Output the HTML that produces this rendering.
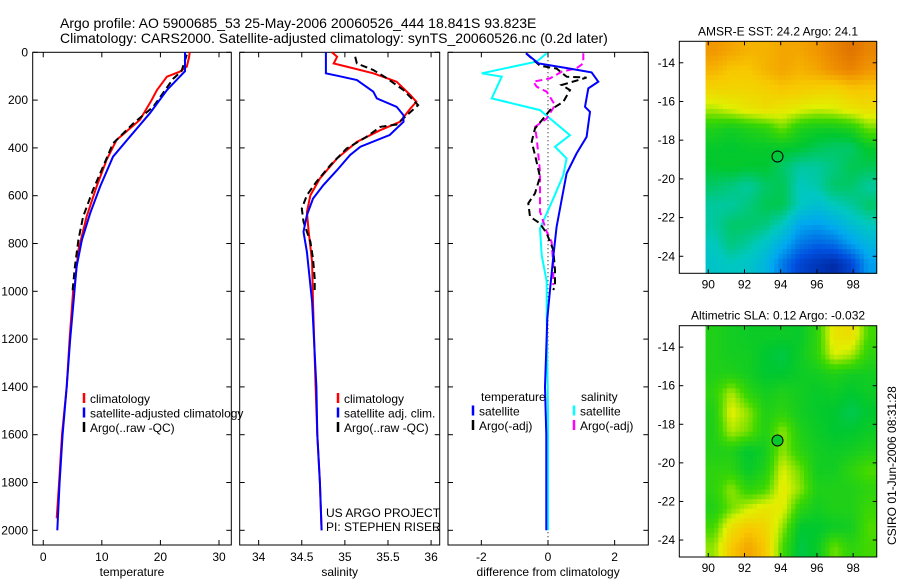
<!DOCTYPE html>
<html><head><meta charset="utf-8"><style>
html,body{margin:0;padding:0;background:#fff;width:900px;height:580px;overflow:hidden}
svg{display:block;font-family:"Liberation Sans",sans-serif}
</style></head><body>
<svg id="fig" width="900" height="580" viewBox="0 0 900 580" xmlns="http://www.w3.org/2000/svg">
<text x="60" y="28" font-size="14">Argo profile: AO 5900685_53 25-May-2006 20060526_444 18.841S 93.823E</text>
<text x="60" y="43" font-size="14">Climatology: CARS2000. Satellite-adjusted climatology: synTS_20060526.nc (0.2d later)</text>
<g id="g"></g>
</svg>
<script>
// ---------- profile data (depth in m) ----------
const tClimDepth = [0,20,60,81,102,158,200,283,367,451,562,688,827,967,1000,1200,1400,1600,1800,1950];
const tClimVal   = [25.0,24.9,24.5,23.3,21.1,19.4,18.5,16.5,12.5,10.8,9.1,7.4,6.0,5.4,5.1,4.5,4.0,3.2,2.7,2.3];
const tSatDepth  = [0,79,158,255,353,437,562,674,785,897,1036,1200,1400,1600,1800,2000];
const tSatVal    = [24.2,24.2,21.1,18.2,14.8,11.9,9.7,8.0,6.6,5.7,5.2,4.6,4.0,3.3,2.8,2.4];
const tArgoDepth = [10,79,110,227,297,381,479,576,688,785,897,1000];
const tArgoVal   = [24.5,23.6,22.2,18.8,15.4,11.9,10.2,8.5,6.8,6.0,5.4,5.0];

const sClimDepth = [0,19,47,60,88,123,179,207,235,291,326,375,444,528,598,668,751,877,1044,1400,1600,1800,2000];
const sClimVal   = [34.85,34.91,34.87,35.02,35.33,35.60,35.76,35.83,35.76,35.64,35.41,35.14,34.91,34.71,34.60,34.56,34.58,34.62,34.63,34.66,34.68,34.71,34.73];
const sSatDepth  = [0,88,98,116,165,193,228,263,291,346,395,430,493,556,612,681,751,835,1044,1400,1600,1800,2000];
const sSatVal    = [34.78,34.78,34.91,35.14,35.33,35.37,35.60,35.68,35.68,35.52,35.18,35.06,34.91,34.75,34.63,34.56,34.52,34.56,34.62,34.67,34.68,34.71,34.73];
const sArgoDepth = [19,47,74,109,158,221,263,302,312,354,403,473,542,598,654,709,793,863,946,1002];
const sArgoVal   = [35.12,35.14,35.33,35.49,35.68,35.85,35.72,35.60,35.41,35.25,35.02,34.83,34.67,34.56,34.50,34.52,34.60,34.63,34.65,34.65];

const dTSatDepth  = [4,46,68,84,123,151,228,249,354,423,507,618,730,855,995,1114,1400,1600,2000];
const dTSatVal    = [-0.66,-0.29,0.66,1.31,1.51,1.21,1.11,1.26,1.16,0.86,0.56,0.41,0.26,0.16,0.06,-0.02,-0.09,-0.05,-0.05];
const dTArgoDepth = [4,56,68,102,106,137,158,207,242,277,319,374,430,521,590,632,688,716,758,827,911,974,995];
const dTArgoVal   = [-0.66,-0.24,0.26,0.56,1.16,0.41,0.66,0.46,0.06,-0.14,-0.39,-0.49,-0.39,-0.24,-0.39,-0.59,-0.54,-0.24,-0.04,0.16,0.21,0.21,0.16];
const dSSatDepth  = [4,39,88,102,193,242,277,347,395,444,514,612,737,849,960,1100,1500,2000];
const dSSatVal    = [-0.04,-0.34,-1.99,-1.39,-1.69,-0.24,0.06,0.66,0.21,0.56,0.46,0.16,-0.24,-0.19,-0.04,-0.04,0.0,0.0];
const dSArgoDepth = [4,46,67,81,109,123,144,165,221,277,312,360,500,667,751,793,891,974];
const dSArgoVal   = [1.06,1.06,0.86,0.41,0.06,-0.44,-0.34,-0.04,0.21,-0.04,-0.39,-0.34,-0.24,-0.24,-0.04,0.11,0.16,0.16];

const depthTicks = [0,200,400,600,800,1000,1200,1400,1600,1800,2000];
const tempTicks = [0,10,20,30];
const salTicks = [34,34.5,35,35.5,36];
const diffTicks = [-2,0,2];
const lonTicks = [90,92,94,96,98];
const latTicks = [-14,-16,-18,-20,-22,-24];

// ---------- map data (normalized colour value 0..1), rows north->south ----------
const sstGrid = [
[0.92,0.90,0.88,0.88,0.90,0.90,0.92,0.95,0.98,0.95],
[0.88,0.85,0.85,0.88,0.90,0.88,0.90,0.93,0.95,0.92],
[0.82,0.82,0.82,0.83,0.85,0.84,0.83,0.82,0.85,0.85],
[0.72,0.75,0.78,0.80,0.78,0.76,0.74,0.75,0.78,0.80],
[0.60,0.58,0.60,0.62,0.68,0.60,0.58,0.58,0.60,0.68],
[0.56,0.55,0.56,0.56,0.56,0.55,0.52,0.50,0.50,0.56],
[0.55,0.56,0.55,0.55,0.50,0.45,0.45,0.48,0.52,0.52],
[0.50,0.48,0.45,0.50,0.52,0.42,0.44,0.50,0.50,0.45],
[0.45,0.45,0.48,0.52,0.52,0.42,0.38,0.42,0.45,0.50],
[0.45,0.50,0.50,0.48,0.42,0.30,0.28,0.32,0.38,0.42],
[0.42,0.48,0.45,0.40,0.32,0.22,0.18,0.20,0.28,0.35],
[0.40,0.42,0.40,0.35,0.22,0.12,0.08,0.05,0.12,0.28]];
const slaGrid = [
[0.60,0.58,0.57,0.57,0.57,0.56,0.62,0.78,0.80,0.65],
[0.60,0.58,0.58,0.55,0.53,0.57,0.62,0.75,0.72,0.62],
[0.60,0.60,0.58,0.55,0.55,0.57,0.58,0.60,0.58,0.58],
[0.62,0.72,0.62,0.58,0.60,0.58,0.56,0.57,0.55,0.57],
[0.60,0.76,0.70,0.60,0.62,0.58,0.56,0.55,0.52,0.55],
[0.60,0.72,0.68,0.60,0.70,0.60,0.57,0.55,0.55,0.57],
[0.60,0.60,0.55,0.58,0.70,0.62,0.58,0.57,0.58,0.60],
[0.62,0.62,0.56,0.60,0.75,0.68,0.58,0.58,0.62,0.66],
[0.62,0.70,0.62,0.65,0.77,0.70,0.60,0.60,0.60,0.62],
[0.60,0.68,0.74,0.78,0.76,0.62,0.58,0.60,0.60,0.64],
[0.65,0.80,0.85,0.82,0.70,0.55,0.55,0.57,0.58,0.66],
[0.70,0.85,0.90,0.85,0.65,0.53,0.56,0.68,0.62,0.65]];
const floatLon = 93.823;
const floatLat = -18.841;

const NS="http://www.w3.org/2000/svg";
const G=document.getElementById('g');
function el(tag,attrs,parent){const e=document.createElementNS(NS,tag);for(const k in attrs)e.setAttribute(k,attrs[k]);(parent||G).appendChild(e);return e;}
function txt(s,x,y,size,anchor,parent){const t=el('text',{x:x,y:y,'font-size':size,'text-anchor':anchor||'start'},parent);t.textContent=s;return t;}

// profile panels
const TOP=52.3,BOT=545,D0=0,D1=(545-52.3)*200/47.8;
function yD(d){return TOP+(d-D0)/(D1-D0)*(BOT-TOP);}
function makePanel(name,x0,x1,v0,v1,xt,fmt,label,showY){
  const g=el('g',{});
  
  
  const xf=v=>x0+(v-v0)/(v1-v0)*(x1-x0);
  el('rect',{x:x0,y:TOP,width:x1-x0,height:BOT-TOP,fill:'none',stroke:'#000','stroke-width':1},g);
  xt.forEach(v=>{const x=xf(v);
    el('line',{x1:x,x2:x,y1:BOT,y2:BOT-5,stroke:'#000'},g);
    el('line',{x1:x,x2:x,y1:TOP,y2:TOP+5,stroke:'#000'},g);
    const t=txt(fmt(v),x,561,12,'middle',g);
    
    });
  depthTicks.forEach(d=>{const y=yD(d);
    el('line',{x1:x0,x2:x0+5,y1:y,y2:y,stroke:'#000'},g);
    el('line',{x1:x1,x2:x1-5,y1:y,y2:y,stroke:'#000'},g);
    if(showY){const t=txt(String(d),28,y+4,12,'end',g);
      
      }});
  const at=txt(label,(x0+x1)/2,576,12,'middle',g);
  
  
  return {g,xf};
}
function line(p,depths,vals,color,dash,name){
  const pts=depths.map((d,i)=>p.xf(vals[i]).toFixed(1)+','+yD(d).toFixed(1)).join(' ');
  const pl=el('polyline',{points:pts,fill:'none',stroke:color,'stroke-width':2,'stroke-dasharray':dash||'none'},p.g);
  
  
}
function legend(p,items,x,y){
  items.forEach((it,i)=>{
    el('line',{x1:x,x2:x,y1:y+i*14.5-10,y2:y+i*14.5,stroke:it[1],'stroke-width':2.5},p.g);
    const t=txt(it[0],x+6,y+i*14.5,12,'start',p.g);
    
    
  });
}
const p1=makePanel('temperature-panel',32.7,231.3,-1.8,32.1,tempTicks,String,'temperature',true);
line(p1,tClimDepth,tClimVal,'#ff0000',null,'temperature-climatology-line');
line(p1,tArgoDepth,tArgoVal,'#000',"7,4",'temperature-argo-line');
line(p1,tSatDepth,tSatVal,'#0000ff',null,'temperature-satellite-line');
legend(p1,[['climatology','#f00'],['satellite-adjusted climatology','#00f'],['Argo(..raw -QC)','#000']],84,403);

const p2=makePanel('salinity-panel',239.7,439.7,33.78,36.1,salTicks,String,'salinity',false);
line(p2,sClimDepth,sClimVal,'#ff0000',null,'salinity-climatology-line');
line(p2,sArgoDepth,sArgoVal,'#000',"7,4",'salinity-argo-line');
line(p2,sSatDepth,sSatVal,'#0000ff',null,'salinity-satellite-line');
legend(p2,[['climatology','#f00'],['satellite adj. clim.','#00f'],['Argo(..raw -QC)','#000']],338,403);
const u1=txt('US ARGO PROJECT',326,517,12,'start',p2.g);
const u2=txt('PI: STEPHEN RISER',326,531,12,'start',p2.g);

const p3=makePanel('difference-panel',448,648.3,-3.0,3.01,diffTicks,String,'difference from climatology',false);
const zx=p3.xf(0);
el('line',{x1:zx,x2:zx,y1:TOP,y2:BOT,stroke:'#000','stroke-dasharray':'1,3'},p3.g);
line(p3,dSSatDepth,dSSatVal,'#00ffff',null,'salinity-satellite-diff-line');
line(p3,dSArgoDepth,dSArgoVal,'#ff00ff',"7,4",'salinity-argo-diff-line');
line(p3,dTArgoDepth,dTArgoVal,'#000',"7,4",'temperature-argo-diff-line');
line(p3,dTSatDepth,dTSatVal,'#0000ff',null,'temperature-satellite-diff-line');
const lt=txt('temperature',481,401,12,'start',p3.g);
const ls=txt('salinity',581,401,12,'start',p3.g);
legend(p3,[['satellite','#00f'],['Argo(-adj)','#000']],473,415.5);
legend(p3,[['satellite','#0ff'],['Argo(-adj)','#f0f']],574,415.5);

// maps
const cStops=[[0,[0,26,140]],[0.15,[0,80,224]],[0.3,[0,168,240]],[0.42,[0,200,192]],[0.55,[0,200,48]],[0.65,[64,216,0]],[0.75,[224,240,0]],[0.85,[248,200,0]],[0.93,[240,144,0]],[1,[216,104,0]]];
function cmap(v){for(let i=1;i<cStops.length;i++){if(v<=cStops[i][0]){const a=cStops[i-1],b=cStops[i],f=(v-a[0])/(b[0]-a[0]);return 'rgb('+a[1].map((c,k)=>Math.round(c+(b[1][k]-c)*f)).join(',')+')';}}return 'rgb(216,104,0)';}
function sample(grid,fr,fc){
  const rows=grid.length,cols=grid[0].length;
  fr=Math.max(0,Math.min(rows-1,fr));fc=Math.max(0,Math.min(cols-1,fc));
  const r0=Math.floor(fr),c0=Math.floor(fc),r1=Math.min(rows-1,r0+1),c1=Math.min(cols-1,c0+1);
  const a=fr-r0,b=fc-c0;
  return grid[r0][c0]*(1-a)*(1-b)+grid[r0][c1]*(1-a)*b+grid[r1][c0]*a*(1-b)+grid[r1][c1]*a*b;
}
function makeMap(name,top,bot,grid,title,cfill){
  const g=el('g',{});
  
  
  const L=679.3,R=876.7,lon0=88.4,lon1=99.3,lat0=-12.89,lat1=-24.88;
  const xf=v=>L+(v-lon0)/(lon1-lon0)*(R-L);
  const yf=v=>top+(v-lat0)/(lat1-lat0)*(bot-top);
  const gx0=xf(89.85),gx1=R,rows=grid.length,cols=grid[0].length;
  const S=4,nr=rows*S,nc=cols*S;
  const cw=(gx1-gx0)/nc,ch=(bot-top)/nr;
  for(let r=0;r<nr;r++)for(let c=0;c<nc;c++){
    const v=sample(grid,(r+0.5)/S-0.5,(c+0.5)/S-0.5);
    const rc=el('rect',{x:(gx0+c*cw).toFixed(2),y:(top+r*ch).toFixed(2),width:(cw+0.5).toFixed(2),height:(ch+0.5).toFixed(2),fill:cmap(v)},g);
    
    
  }
  el('rect',{x:L,y:top,width:R-L,height:bot-top,fill:'none',stroke:'#000'},g);
  lonTicks.forEach(v=>{const x=xf(v);
    el('line',{x1:x,x2:x,y1:bot,y2:bot-4,stroke:'#000'},g);
    el('line',{x1:x,x2:x,y1:top,y2:top+4,stroke:'#000'},g);
    const t=txt(String(v),x,bot+15,12,'middle',g);});
  latTicks.forEach(v=>{const y=yf(v);
    el('line',{x1:L,x2:L+4,y1:y,y2:y,stroke:'#000'},g);
    el('line',{x1:R,x2:R-4,y1:y,y2:y,stroke:'#000'},g);
    const t=txt(String(v),675,y+4,12,'end',g);});
  const tt=txt(title,(L+R)/2,top-6,12,'middle',g);
  const ci=el('circle',{cx:xf(floatLon),cy:yf(floatLat),r:5.5,fill:cfill,stroke:'#000','stroke-width':1},g);
  
  
}
makeMap('sst-map',41.3,273.3,sstGrid,'AMSR-E SST: 24.2 Argo: 24.1','none');
makeMap('sla-map',325.7,557,slaGrid,'Altimetric SLA: 0.12 Argo: -0.032',cmap(0.56));
const cs=txt('CSIRO 01-Jun-2006 08:31:28',0,0,12,'start');
cs.setAttribute('transform','translate(896,545) rotate(-90)');


</script>
</body></html>
